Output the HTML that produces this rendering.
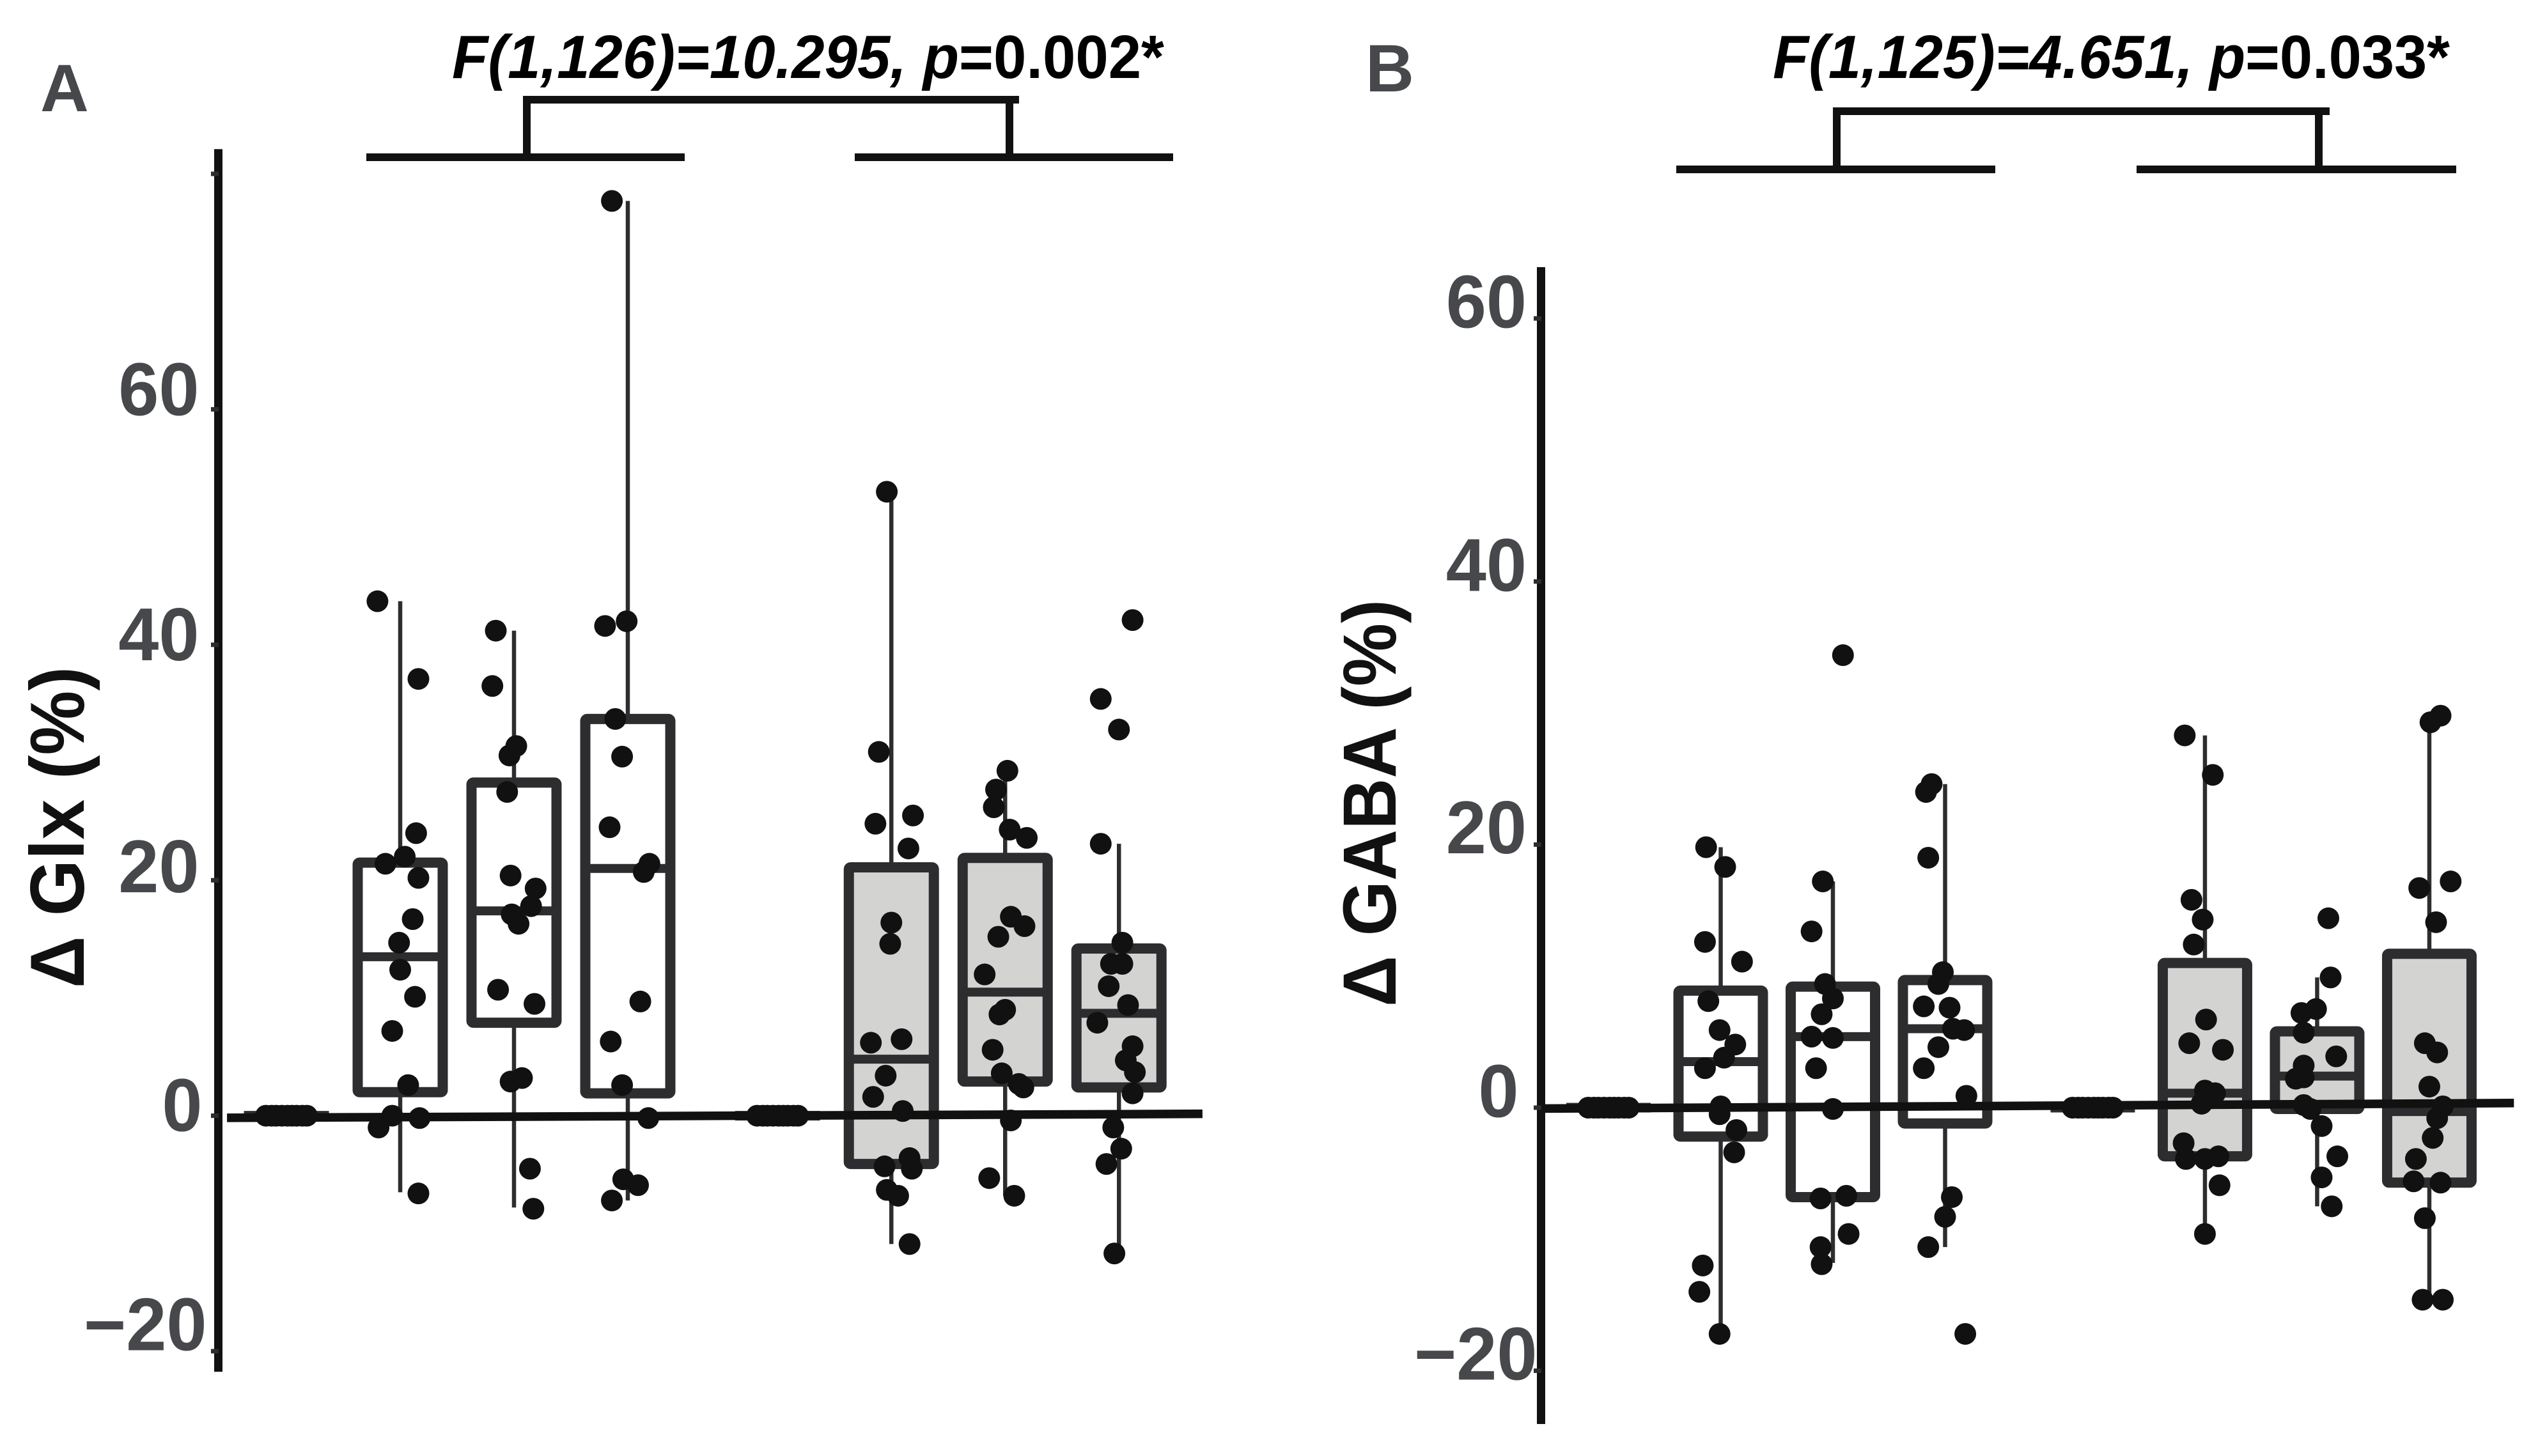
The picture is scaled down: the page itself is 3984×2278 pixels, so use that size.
<!DOCTYPE html>
<html lang="en">
<head>
<meta charset="utf-8">
<title>Change in Glx and GABA box plots</title>
<style>
html,body{margin:0;padding:0;background:#fff;}
svg{display:block;}
text{font-family:"Liberation Sans",Arial,sans-serif;font-weight:bold;}
</style>
</head>
<body>
<svg id="chart" xmlns="http://www.w3.org/2000/svg" width="3984" height="2278" viewBox="0 0 3984 2278">
  <rect x="0" y="0" width="3984" height="2278" fill="#fff"/>

  <text x="63" y="174" font-size="105" fill="#47484b">A</text>
  <text x="2136" y="143" font-size="105" fill="#47484b">B</text>

  <text x="707" y="122" font-size="96" fill="#000" textLength="1114" lengthAdjust="spacingAndGlyphs"><tspan font-style="italic">F(1,126)=10.295, p</tspan>=0.002*</text>
  <text x="2773" y="122" font-size="96" fill="#000" textLength="1059" lengthAdjust="spacingAndGlyphs"><tspan font-style="italic">F(1,125)=4.651, p</tspan>=0.033*</text>

  <g fill="#111">
    <rect x="819" y="150" width="775" height="12"/>
    <rect x="818" y="150" width="12" height="96"/>
    <rect x="1573" y="150" width="12" height="96"/>
    <rect x="573" y="240" width="498" height="12"/>
    <rect x="1337" y="240" width="498" height="12"/>
  </g>
  <g fill="#111">
    <rect x="2867" y="168" width="777" height="12"/>
    <rect x="2867" y="168" width="12" height="97"/>
    <rect x="3621" y="168" width="12" height="97"/>
    <rect x="2622" y="259" width="499" height="12"/>
    <rect x="3342" y="259" width="500" height="12"/>
  </g>

  <text transform="translate(131 1546) rotate(-90)" font-size="120" fill="#111" textLength="503" lengthAdjust="spacingAndGlyphs">Δ Glx (%)</text>
  <text transform="translate(2183 1575) rotate(-90)" font-size="118" fill="#111" textLength="637" lengthAdjust="spacingAndGlyphs">Δ GABA (%)</text>

  <g id="panel-a"></g>
  <g id="panel-b"></g>
</svg>

<script>
// Shared category positions along the x axis (gap between the two groups)
const categoryPositions = [1, 2, 3, 4, 5.316, 6.316, 7.316, 8.316];
const boxCategories = [2, 3, 4, 6.316, 7.316, 8.316];
const shadedBoxes = [false, false, false, true, true, true];
const clusterCategories = [1, 5.316];
const clusterJitter = [-0.18, -0.13, -0.09, -0.04, 0.01, 0.05, 0.09, 0.14, 0.18];

// Panel A: delta Glx
const glxTicks = [-20, 0, 20, 40, 60, 80];
const glxTickLabels = ["\u221220", "0", "20", "40", "60", ""];
const glxQ1 = [2.0, 7.9, 1.9, -4.1, 2.9, 2.4];
const glxMedian = [13.5, 17.4, 21.0, 4.8, 10.5, 8.7];
const glxQ3 = [21.5, 28.3, 33.7, 21.1, 21.9, 14.2];
const glxWhiskerLow = [-6.5, -7.8, -7.2, -10.9, -6.8, -11.7];
const glxWhiskerHigh = [43.7, 41.2, 77.7, 53.0, 29.3, 23.1];
const glxValues = [
  [43.7, 37.1, 24.0, 21.4, 22.0, 20.2, 16.7, 14.7, 12.4, 10.1, 7.2, 2.6, 0, -0.2, -1.0, -6.6],
  [41.2, 36.5, 31.4, 30.6, 27.5, 20.4, 19.3, 17.8, 17.1, 16.3, 10.7, 9.5, 3.2, 2.9, -4.5, -7.9],
  [77.7, 42.0, 41.6, 33.7, 30.5, 24.5, 21.4, 20.7, 9.7, 6.3, 2.6, -0.2, -5.4, -5.9, -7.2],
  [53.0, 30.9, 25.5, 24.8, 22.7, 16.4, 14.6, 6.5, 6.2, 3.4, 1.6, 0.4, -3.6, -4.3, -4.5, -6.3, -6.8, -10.9],
  [29.3, 27.7, 26.2, 24.3, 23.6, 16.9, 16.1, 15.2, 12.0, 9.0, 8.6, 5.6, 3.6, 2.7, 2.4, -0.4, -5.3, -6.8],
  [42.1, 35.4, 32.8, 23.1, 14.7, 12.9, 12.9, 11.0, 9.4, 7.9, 5.9, 4.7, 3.7, 1.9, -1.0, -2.8, -4.1, -11.7]
];
const glxJitter = [
  [-0.20, 0.16, 0.14, -0.13, 0.04, 0.16, 0.11, -0.01, 0, 0.13, -0.07, 0.07, -0.07, 0.17, -0.19, 0.16],
  [-0.16, -0.19, 0.02, -0.04, -0.06, -0.03, 0.19, 0.15, -0.02, 0.04, -0.14, 0.18, 0.07, -0.03, 0.14, 0.17],
  [-0.14, -0.01, -0.20, -0.11, -0.05, -0.16, 0.19, 0.14, 0.11, -0.15, -0.05, 0.18, -0.04, 0.09, -0.14],
  [-0.04, -0.11, 0.19, -0.14, 0.15, 0, -0.01, 0.09, -0.18, -0.05, -0.16, 0.10, 0.16, -0.06, 0.18, -0.04, 0.06, 0.16],
  [0.02, -0.08, -0.10, 0.04, 0.19, 0.05, 0.17, -0.06, -0.18, 0, -0.05, -0.11, -0.03, 0.12, 0.16, 0.05, -0.14, 0.08],
  [0.12, -0.16, 0, -0.16, 0.03, -0.07, 0.03, -0.09, 0.08, -0.19, 0.12, 0.06, 0.14, 0.12, -0.05, 0.02, -0.11, -0.04]
];
const glxTrendX = [0.478, 9.05];
const glxTrendY = [-0.18, 0.16];

// Panel B: delta GABA
const gabaTicks = [-20, 0, 20, 40, 60];
const gabaTickLabels = ["\u221220", "0", "20", "40", "60"];
const gabaQ1 = [-2.2, -6.8, -1.2, -3.7, -0.1, -5.7];
const gabaMedian = [3.5, 5.4, 6.0, 1.1, 2.4, -0.3];
const gabaQ3 = [8.9, 9.2, 9.7, 11.0, 5.8, 11.7];
const gabaWhiskerLow = [-17.2, -11.8, -10.6, -9.6, -7.5, -14.6];
const gabaWhiskerHigh = [19.8, 17.2, 24.6, 28.3, 9.9, 29.8];
const gabaValues = [
  [19.8, 18.3, 12.6, 11.1, 8.1, 5.9, 4.8, 3.8, 3.0, 0.1, -0.5, -1.7, -3.4, -12.0, -14.0, -17.2],
  [34.4, 17.2, 13.4, 9.4, 8.3, 7.1, 5.4, 5.3, 3.0, -0.1, -6.9, -6.7, -9.6, -10.6, -11.9],
  [24.6, 24.0, 19.0, 10.3, 9.4, 7.7, 7.6, 6.0, 5.9, 4.6, 3.0, 0.9, -6.8, -8.3, -10.6, -17.2],
  [28.3, 25.3, 15.8, 14.3, 12.4, 6.7, 4.9, 4.4, 1.3, 1.1, 0.3, -2.7, -3.9, -3.9, -3.7, -5.9, -9.6],
  [14.4, 9.9, 7.5, 7.2, 5.7, 3.9, 3.2, 2.3, 2.2, 0.2, -0.1, -1.4, -3.7, -5.3, -7.5],
  [29.8, 29.3, 17.2, 16.7, 14.1, 4.9, 4.2, 1.6, 0.1, -0.8, -2.3, -3.9, -5.6, -5.7, -8.4, -14.6, -14.6]
];
const gabaJitter = [
  [-0.13, 0.04, -0.14, 0.19, -0.11, -0.01, 0.13, 0.03, -0.14, 0, -0.01, 0.14, 0.12, -0.16, -0.19, -0.01],
  [0.09, -0.09, -0.19, -0.07, 0, -0.10, -0.19, 0, -0.15, 0, -0.11, 0.12, 0.14, -0.11, -0.10],
  [-0.12, -0.17, -0.15, -0.02, -0.06, -0.19, 0.04, 0.07, 0.17, -0.06, -0.19, 0.19, 0.06, 0, -0.15, 0.18],
  [-0.18, 0.07, -0.12, -0.02, -0.10, 0.01, -0.14, 0.16, 0, 0.09, -0.03, -0.19, -0.17, 0, 0.12, 0.13, 0],
  [0.10, 0.12, -0.01, -0.14, -0.12, 0.17, -0.12, -0.12, -0.19, -0.12, -0.06, 0.04, 0.18, 0.04, 0.13],
  [0.10, 0.01, 0.19, -0.09, 0.06, -0.04, 0.07, 0, 0.12, 0.07, 0.03, -0.12, -0.14, 0.10, -0.04, -0.06, 0.12]
];
const gabaTrendX = [0.4, 9.07];
const gabaTrendY = [-0.07, 0.35];

const SVG_NS = "http://www.w3.org/2000/svg";

function make(tag, parent, attrs) {
  const node = document.createElementNS(SVG_NS, tag);
  for (const key in attrs) node.setAttribute(key, attrs[key]);
  parent.appendChild(node);
  return node;
}

function drawPanel(root, cfg, d) {
  const xScale = function (p) { return cfg.x0 + cfg.xStep * (p - 1); };
  const yScale = function (v) { return cfg.y0 - cfg.yStep * v; };

  const axis = make("rect", root, {
    x: cfg.axisX - 6.5, y: yScale(cfg.axisMax), width: 13,
    height: yScale(cfg.axisMin) - yScale(cfg.axisMax), fill: "#111"
  });
  
  

  d.ticks.forEach(function (t, i) {
    const tick = make("rect", root, {
      x: cfg.axisX - 11.5, y: yScale(t) - 3.5, width: 12, height: 7, fill: "#2d2d2f"
    });
    
    
    if (d.labels[i] !== "") {
      const label = make("text", root, {
        transform: "translate(" + (cfg.axisX + cfg.labelDx[i]) + " " + (yScale(t) + cfg.labelDy[i]) + ") scale(0.97 1)",
        "font-size": 117, fill: "#47484b", "text-anchor": "end"
      });
      label.textContent = d.labels[i];
      
      
    }
  });

  clusterCategories.forEach(function (c) {
    const flatBox = make("line", root, {
      x1: xScale(c) - cfg.boxWidth / 2, x2: xScale(c) + cfg.boxWidth / 2,
      y1: yScale(0), y2: yScale(0), stroke: "#2d2d2f", "stroke-width": 15
    });
    
    
  });

  boxCategories.forEach(function (c, i) {
    const cx = xScale(c);
    const halfWidth = cfg.boxWidth / 2;

    const whisker = make("line", root, {
      x1: cx, x2: cx, y1: yScale(d.whiskerLow[i]), y2: yScale(d.whiskerHigh[i]),
      stroke: "#2d2d2f", "stroke-width": 6.5
    });
    
    

    const box = make("rect", root, {
      x: cx - halfWidth, y: yScale(d.q3[i]), width: cfg.boxWidth,
      height: yScale(d.q1[i]) - yScale(d.q3[i]),
      fill: shadedBoxes[i] ? "#d3d3d1" : "#fff", stroke: "#2d2d2f", "stroke-width": 16,
      rx: 3
    });
    
    

    const median = make("line", root, {
      x1: cx - halfWidth, x2: cx + halfWidth, y1: yScale(d.median[i]), y2: yScale(d.median[i]),
      stroke: "#2d2d2f", "stroke-width": 14
    });
    
    
  });

  const trend = make("line", root, {
    x1: xScale(d.trendX[0]), x2: xScale(d.trendX[1]),
    y1: yScale(d.trendY[0]), y2: yScale(d.trendY[1]),
    stroke: "#111", "stroke-width": 13.5
  });
  
  

  clusterCategories.forEach(function (c) {
    clusterJitter.forEach(function (j) {
      const dot = make("circle", root, {
        cx: xScale(c + j), cy: yScale(0), r: 17, fill: "#111"
      });
      
      
    });
  });

  boxCategories.forEach(function (c, i) {
    d.values[i].forEach(function (v, k) {
      const dot = make("circle", root, {
        cx: xScale(c + d.jitter[i][k]), cy: yScale(v), r: 17, fill: "#111"
      });
      
      
    });
  });
}

drawPanel(document.getElementById("panel-a"), {
  x0: 448, xStep: 178, y0: 1745.6, yStep: 18.42, axisX: 341.5,
  axisMax: 82.1, axisMin: -21.75, boxWidth: 133,
  labelDx: [-18, -25, -30, -30, -30, 0],
  labelDy: [-1.3, 24, 19, 24, 9, 0]
}, {
  ticks: glxTicks, labels: glxTickLabels, q1: glxQ1, median: glxMedian, q3: glxQ3,
  whiskerLow: glxWhiskerLow, whiskerHigh: glxWhiskerHigh,
  values: glxValues, jitter: glxJitter, trendX: glxTrendX, trendY: glxTrendY
});

drawPanel(document.getElementById("panel-b"), {
  x0: 2516, xStep: 175.5, y0: 1733, yStep: 20.58, axisX: 2410.5,
  axisMax: 63.9, axisMin: -24.05, boxWidth: 132,
  labelDx: [-6, -35, -22.5, -22.5, -22.5],
  labelDy: [14, 14.5, 13.5, 14.8, 14.5]
}, {
  ticks: gabaTicks, labels: gabaTickLabels, q1: gabaQ1, median: gabaMedian, q3: gabaQ3,
  whiskerLow: gabaWhiskerLow, whiskerHigh: gabaWhiskerHigh,
  values: gabaValues, jitter: gabaJitter, trendX: gabaTrendX, trendY: gabaTrendY
});
</script>
</body>
</html>
